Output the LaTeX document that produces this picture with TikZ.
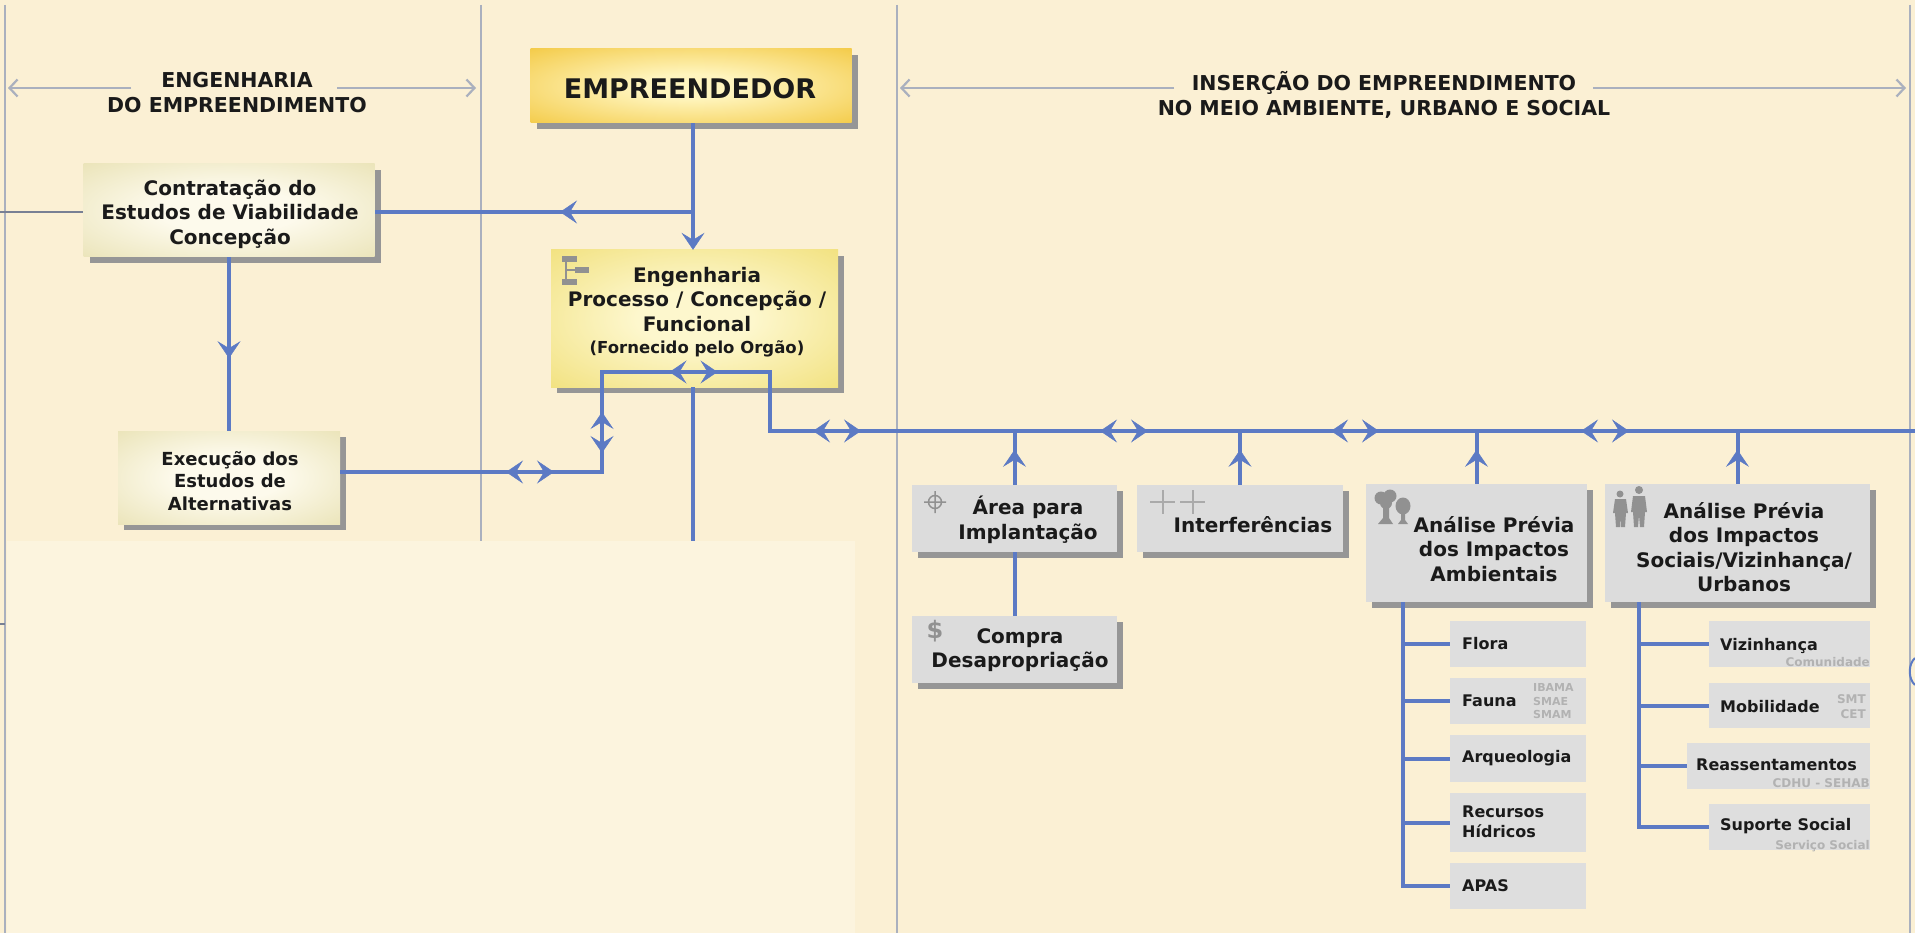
\documentclass[tikz,border=0pt]{standalone}
\usepackage{fontspec}
\setmainfont{DejaVu Sans}
\usetikzlibrary{arrows.meta,decorations.markings,calc}
\definecolor{bg}{RGB}{251,240,212}
\definecolor{pale}{RGB}{252,244,222}
\definecolor{sep}{RGB}{170,176,190}
\definecolor{thin}{RGB}{120,128,148}
\definecolor{blu}{RGB}{92,122,196}
\definecolor{txt}{RGB}{26,26,26}
\definecolor{boxgray}{RGB}{220,220,220}
\definecolor{subgray}{RGB}{222,222,222}
\definecolor{shadowgray}{RGB}{150,150,150}
\definecolor{icongray}{RGB}{145,145,145}
\definecolor{plusgray}{RGB}{170,170,170}
\definecolor{labgray}{RGB}{178,178,178}
\definecolor{goldA}{RGB}{255,245,190}
\definecolor{goldB}{RGB}{238,182,14}
\definecolor{yelA}{RGB}{253,247,205}
\definecolor{yelB}{RGB}{236,214,86}
\definecolor{creA}{RGB}{253,250,236}
\definecolor{creB}{RGB}{224,215,155}
\pgfdeclareradialshading{goldshade}{\pgfpointorigin}{color(0bp)=(goldA); color(8bp)=(goldA); color(50bp)=(goldB)}
\pgfdeclareradialshading{yelshade}{\pgfpointorigin}{color(0bp)=(yelA); color(10bp)=(yelA); color(50bp)=(yelB)}
\pgfdeclareradialshading{creshade}{\pgfpointorigin}{color(0bp)=(creA); color(12bp)=(creA); color(50bp)=(creB)}
\tikzset{
  Bt/.tip={Stealth[length=17pt,width=23pt,inset=7pt,line width=0.5pt]},
  Hb/.tip={Straight Barb[length=8pt,width=17pt,line width=2.2pt]},
  sepline/.style={draw=sep,line width=2.5pt},
  hdrline/.style={draw=sep,line width=2.5pt},
  thinline/.style={draw=thin,line width=1.6pt},
  blueline/.style={draw=blu,line width=4pt},
  midtip/.style={decoration={markings,mark=at position #1 with {\arrow{Bt}}},postaction={decorate}},
  boxbase/.style={rectangle,inner sep=0pt,draw=none},
  shadowed/.style={preaction={fill=shadowgray,transform canvas={xshift=6pt,yshift=-6pt}}},
  goldbox/.style={boxbase,shadowed,shade,shading=goldshade},
  yelbox/.style={boxbase,shadowed,shade,shading=yelshade},
  crebox/.style={boxbase,shadowed,shade,shading=creshade},
  graybox/.style={boxbase,shadowed,fill=boxgray},
  subbox/.style={boxbase,fill=subgray},
  hdrtext/.style={align=center,text=txt,font=\fontsize{20.5}{25}\selectfont\bfseries,inner sep=0pt},
  boxtext/.style={align=center,text=txt,font=\fontsize{20}{24.5}\selectfont\bfseries,inner sep=0pt},
  smalltext/.style={align=center,text=txt,font=\fontsize{18}{22.5}\selectfont\bfseries,inner sep=0pt},
  subtext/.style={align=left,anchor=west,text=txt,font=\fontsize{16}{20}\selectfont\bfseries,inner sep=0pt},
  labtext/.style={text=labgray,font=\fontsize{12}{15}\selectfont\bfseries,inner sep=0pt},
}
\begin{document}
\begin{tikzpicture}[x=1pt,y=-1pt]
\fill[bg] (0,0) rectangle (1915,933);
\useasboundingbox (0,0) rectangle (1915,933);
\fill[pale] (7,541) rectangle (855,933);

% separators
\coordinate (s1t) at (5,5); \coordinate (s1b) at (5,933);
\coordinate (s2t) at (481,5); \coordinate (s2b) at (481,541);
\coordinate (s3t) at (897,5); \coordinate (s3b) at (897,933);
\coordinate (s4t) at (1910,5); \coordinate (s4b) at (1910,933);
\draw[sepline] (s1t) -- (s1b);
\draw[sepline] (s2t) -- (s2b);
\draw[sepline] (s3t) -- (s3b);
\draw[sepline] (s4t) -- (s4b);
\coordinate (tk1) at (0,624); \coordinate (tk2) at (5,624);
\draw[thinline] (tk1) -- (tk2);

% headers
\coordinate (hl1) at (8,88); \coordinate (hl2) at (131,88);
\coordinate (hr1) at (337,88); \coordinate (hr2) at (476,88);
\draw[hdrline,-Hb] (hl2) -- (hl1);
\draw[hdrline,-Hb] (hr1) -- (hr2);
\node[hdrtext] (h1) at (237,93) {ENGENHARIA\\DO EMPREENDIMENTO};
\coordinate (gl1) at (900,88); \coordinate (gl2) at (1174,88);
\coordinate (gr1) at (1593,88); \coordinate (gr2) at (1906,88);
\draw[hdrline,-Hb] (gl2) -- (gl1);
\draw[hdrline,-Hb] (gr1) -- (gr2);
\node[hdrtext] (h2) at (1384,95) {INSERÇÃO DO EMPREENDIMENTO\\NO MEIO AMBIENTE, URBANO E SOCIAL};

% left boxes
\node[goldbox,minimum width=321,minimum height=74] (emp) at (691,86) {};
\node[text=txt,font=\fontsize{27}{32}\selectfont\bfseries,inner sep=0pt] (empT) at (690,89) {EMPREENDEDOR};
\node[crebox,minimum width=291,minimum height=93] (contr) at (229,210.5) {};
\node[boxtext] (contrT) at (230,214) {Contratação do\\Estudos de Viabilidade\\Concepção};
\node[yelbox,minimum width=287,minimum height=137] (eng) at (694.5,318.5) {};
\node[boxtext] (engT) at (697,312) {Engenharia\\Processo / Concepção /\\Funcional\\[-2pt]{\fontsize{16.5}{20}\selectfont (Fornecido pelo Orgão)}};
\node[crebox,minimum width=222,minimum height=93] (exec) at (229,477.5) {};
\node[smalltext] (execT) at (230,481) {Execução dos\\Estudos de\\Alternativas};

% org icon
\fill[icongray] (562,256) rectangle (577,262);
\fill[icongray] (575,267) rectangle (589,273);
\fill[icongray] (562,279) rectangle (577,285);
\draw[icongray,line width=1.5pt] (566,262) -- (566,279) (566,270) -- (575,270);

% left connectors
\coordinate (j1) at (693,212);
\coordinate (cut) at (0,541);
\coordinate (leftin) at (0,212);
\draw[blueline,-Bt] (j1 |- emp.south) -- (j1 |- eng.north);
\draw[blueline,midtip=133pt] (j1) -- (j1 -| contr.east);
\draw[thinline] (leftin) -- (leftin -| contr.west);
\draw[blueline,midtip=101pt] (contr.south) -- (exec.north);
\draw[blueline] (j1 |- eng.south) -- (j1 |- cut);

\coordinate (x1) at (602,472);
\coordinate (e1) at (602,372);
\coordinate (e2) at (770,372);
\coordinate (e3) at (770,431);
\coordinate (busend) at (1915,431);
\draw[blueline] (exec.east |- x1) -- (x1) -- (e1) -- (e2) -- (e3) -- (busend);

% double arrows
\coordinate (d1) at (530,472);
\coordinate (d2) at (602,432.5);
\coordinate (d3) at (693.5,372);
\coordinate (d4) at (837,431);
\coordinate (d5) at (1124,431);
\coordinate (d6) at (1355,431);
\coordinate (d7) at (1605,431);
\foreach \d in {d1,d3,d4,d5,d6,d7}
  \draw[blueline,Bt-Bt] ([xshift=-24pt]\d) -- ([xshift=24pt]\d);
\draw[blueline,Bt-Bt] ([yshift=20.5pt]d2) -- ([yshift=-20.5pt]d2);

% right boxes
\node[graybox,minimum width=205,minimum height=67] (area) at (1014.5,518.5) {};
\node[boxtext] (areaT) at (1028,520) {Área para\\Implantação};
\node[graybox,minimum width=205,minimum height=67] (compra) at (1014.5,649.5) {};
\node[boxtext] (compraT) at (1020,650) {Compra\\Desapropriação};
\node[graybox,minimum width=206,minimum height=67] (interf) at (1240,518.5) {};
\node[boxtext] (interfT) at (1253,525) {Interferências};
\node[graybox,minimum width=221,minimum height=118] (amb) at (1476.5,543) {};
\node[boxtext] (ambT) at (1494,549) {Análise Prévia\\dos Impactos\\Ambientais};
\node[graybox,minimum width=265,minimum height=118] (soc) at (1737.5,543) {};
\node[boxtext] (socT) at (1744,547) {Análise Prévia\\dos Impactos\\Sociais/Vizinhança/\\Urbanos};

\draw[blueline,midtip=35pt] (area.north) -- (area.north |- e3);
\draw[blueline,midtip=35pt] (interf.north) -- (interf.north |- e3);
\draw[blueline,midtip=34pt] (amb.north) -- (amb.north |- e3);
\draw[blueline,midtip=34pt] (soc.north) -- (soc.north |- e3);
\draw[blueline] (area.south) -- (compra.north);

% icons
\draw[icongray,line width=1.5pt] (935,502) circle[radius=6.5pt] (924,502) -- (946,502) (935,491) -- (935,513);
\node[text=icongray,font=\fontsize{24}{24}\selectfont\bfseries,inner sep=0pt] (dollar) at (935,631) {\$};
\draw[plusgray,line width=2pt] (1150,502) -- (1175,502) (1162.5,490) -- (1162.5,514) (1180,502) -- (1205,502) (1192.5,490) -- (1192.5,514);
% trees
\fill[icongray] (1381,498) circle[radius=6.5pt] (1390,496) circle[radius=6.5pt] (1386,503) circle[radius=6pt];
\fill[icongray] (1383,506) -- (1389,506) -- (1389,518) -- (1393,524) -- (1378,524) -- (1383,518) -- cycle;
\fill[icongray] (1403,506) ellipse[x radius=7.5pt,y radius=8.5pt];
\fill[icongray] (1401,512) -- (1405,512) -- (1405,520) -- (1408,524) -- (1398,524) -- (1401,520) -- cycle;
% persons
\fill[icongray] (1620,494) circle[radius=3.5pt];
\fill[icongray] (1615,499) -- (1626,499) -- (1628,513) -- (1626,513) -- (1625,527) -- (1621,527) -- (1620.5,516) -- (1620,527) -- (1616,527) -- (1615,513) -- (1613,513) -- cycle;
\fill[icongray] (1639,490) circle[radius=4pt];
\fill[icongray] (1633,496) -- (1645,496) -- (1647,512) -- (1645,512) -- (1644,527) -- (1640,527) -- (1639,515) -- (1638,527) -- (1634,527) -- (1633,512) -- (1631,512) -- cycle;

% sub boxes environment
\node[subbox,minimum width=136,minimum height=46] (flora) at (1518,644) {};
\node[subbox,minimum width=136,minimum height=46] (fauna) at (1518,701) {};
\node[subbox,minimum width=136,minimum height=47] (arq) at (1518,758.5) {};
\node[subbox,minimum width=136,minimum height=59] (rec) at (1518,822.5) {};
\node[subbox,minimum width=136,minimum height=46] (apas) at (1518,886) {};
\node[subtext] (floraT) at (1462,644) {Flora};
\node[subtext] (faunaT) at (1462,701) {Fauna};
\node[labtext,align=left,anchor=west,font=\fontsize{11}{13.5}\selectfont\bfseries] (faunaL) at (1533,701.5) {IBAMA\\SMAE\\SMAM};
\node[subtext] (arqT) at (1462,758) {Arqueologia};
\node[subtext] (recT) at (1462,822) {Recursos\\Hídricos};
\node[subtext] (apasT) at (1462,886) {APAS};

% sub boxes social
\node[subbox,minimum width=161,minimum height=46] (viz) at (1789.5,644) {};
\node[subbox,minimum width=161,minimum height=45] (mob) at (1789.5,705.5) {};
\node[subbox,minimum width=183,minimum height=46] (rea) at (1778.5,766) {};
\node[subbox,minimum width=161,minimum height=46] (sup) at (1789.5,827) {};
\node[subtext] (vizT) at (1720,646) {Vizinhança};
\node[labtext,anchor=east] (vizL) at (1870,662) {Comunidade};
\node[subtext] (mobT) at (1720,707) {Mobilidade};
\node[labtext,anchor=east,align=right] (mobL) at (1866,706.5) {SMT\\CET};
\node[subtext] (reaT) at (1696,765) {Reassentamentos};
\node[labtext,anchor=east] (reaL) at (1870,783) {CDHU - SEHAB};
\node[subtext] (supT) at (1720,826) {Suporte Social};
\node[labtext,anchor=east] (supL) at (1870,846) {Serviço Social};

% trunks
\coordinate (ta) at (1403,602);
\coordinate (ts) at (1639,602);
\foreach \b in {flora,fauna,arq,rec,apas}
  \draw[blueline] (ta) |- (\b.west);
\foreach \b in {viz,mob,rea,sup}
  \draw[blueline] (ts) |- (\b.west);

% edge fragment
\draw[blu,line width=2pt] (1915,658) .. controls (1908,664) and (1908,679) .. (1915,685);
\end{tikzpicture}
\end{document}
